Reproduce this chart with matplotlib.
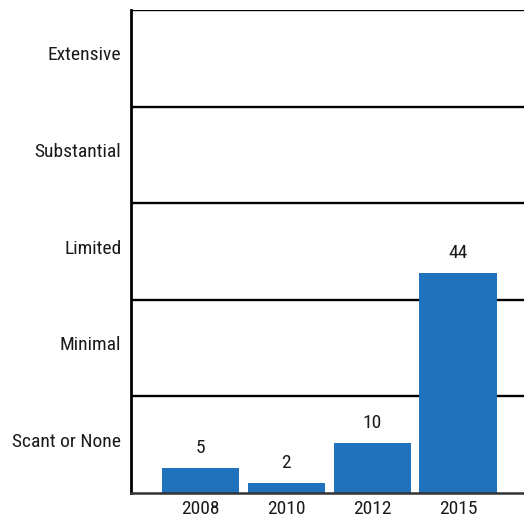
import matplotlib.pyplot as plt
from matplotlib import font_manager

years = ["2008", "2010", "2012", "2015"]
counts = [5, 2, 10, 44]
levels = ["Scant or None", "Minimal", "Limited", "Substantial", "Extensive"]
band = 19.32

names = {f.name for f in font_manager.fontManager.ttflist}
family = "Roboto"
for cand in ["Roboto Condensed", "Liberation Sans Narrow", "Open Sans Condensed", "Arial Narrow"]:
    if cand in names:
        family = cand
        break
plt.rcParams["font.family"] = [family, "DejaVu Sans"]
fs = 14 if family != "Roboto" else 12.5

fig = plt.figure(figsize=(5.24, 5.18), dpi=100)
ax = fig.add_axes([131 / 524, 25 / 518, 1 - 131 / 524, 483 / 518])

x = list(range(len(years)))
for i in range(1, len(levels) + 1):
    ax.axhline(band * i, color="black", lw=1.7, zorder=1)
bars = ax.bar(x, counts, width=0.9, color="#1f72bb", zorder=2)
for xi, c in zip(x, counts):
    ax.annotate(str(c), (xi, c), xytext=(0, 8), textcoords="offset points",
                ha="center", va="bottom", fontsize=fs, color="#1a1a1a")

ax.set_xlim(-0.81, 3.77)
ax.set_ylim(0, band * len(levels))
ax.set_xticks(x)
ax.set_xticklabels(years, fontsize=fs, color="#1a1a1a")
ax.set_yticks([band * (i + 0.5) + 1.0 for i in range(len(levels))])
ax.set_yticklabels(levels, fontsize=fs, color="#1a1a1a")
ax.tick_params(length=0)
ax.tick_params(axis="y", pad=7)
ax.tick_params(axis="x", pad=5)

for s in ["top", "right"]:
    ax.spines[s].set_visible(False)
ax.spines["left"].set_linewidth(2.0)
ax.spines["bottom"].set_linewidth(1.8)
ax.spines["bottom"].set_color("#333333")

fig.savefig("out.png", dpi=100)
